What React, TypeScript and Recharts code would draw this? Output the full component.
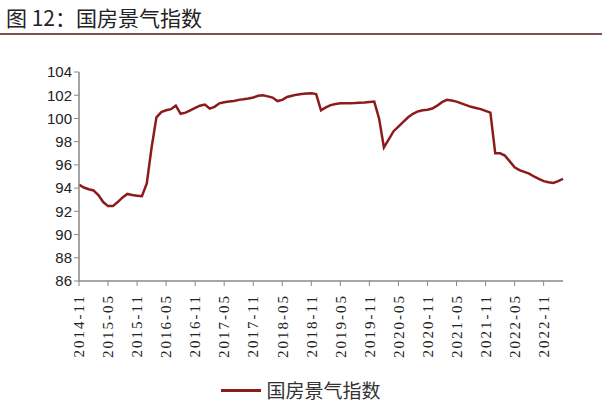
import React from "react";
import { LineChart, Line, XAxis, YAxis } from "recharts";

const months: string[] = [
  "2014-11","2014-12",
  "2015-01","2015-02","2015-03","2015-04","2015-05","2015-06","2015-07","2015-08","2015-09","2015-10","2015-11","2015-12",
  "2016-01","2016-02","2016-03","2016-04","2016-05","2016-06","2016-07","2016-08","2016-09","2016-10","2016-11","2016-12",
  "2017-01","2017-02","2017-03","2017-04","2017-05","2017-06","2017-07","2017-08","2017-09","2017-10","2017-11","2017-12",
  "2018-01","2018-02","2018-03","2018-04","2018-05","2018-06","2018-07","2018-08","2018-09","2018-10","2018-11","2018-12",
  "2019-01","2019-02","2019-03","2019-04","2019-05","2019-06","2019-07","2019-08","2019-09","2019-10","2019-11","2019-12",
  "2020-01","2020-02","2020-03","2020-04","2020-05","2020-06","2020-07","2020-08","2020-09","2020-10","2020-11","2020-12",
  "2021-01","2021-02","2021-03","2021-04","2021-05","2021-06","2021-07","2021-08","2021-09","2021-10","2021-11","2021-12",
  "2022-01","2022-02","2022-03","2022-04","2022-05","2022-06","2022-07","2022-08","2022-09","2022-10","2022-11","2022-12",
  "2023-01","2023-02","2023-03",
];

const indexValues: number[] = [
  94.3, 94.05,
  93.9, 93.8, 93.4, 92.8, 92.45, 92.45, 92.8, 93.2, 93.5, 93.4, 93.35, 93.3,
  94.4, 97.5, 100.1, 100.55, 100.7, 100.8, 101.1, 100.4, 100.5, 100.7, 100.9, 101.1,
  101.2, 100.85, 101.0, 101.3, 101.4, 101.45, 101.5, 101.6, 101.65, 101.72, 101.8, 101.95,
  102.0, 101.9, 101.8, 101.5, 101.6, 101.85, 101.95, 102.05, 102.1, 102.15, 102.17, 102.1,
  100.7, 100.95, 101.15, 101.25, 101.3, 101.3, 101.3, 101.32, 101.35, 101.38, 101.42, 101.45,
  100.0, 97.5, 98.2, 98.9, 99.3, 99.7, 100.1, 100.4, 100.6, 100.7, 100.75, 100.85,
  101.1, 101.4, 101.6, 101.55, 101.45, 101.3, 101.15, 101.0, 100.9, 100.8, 100.65, 100.5,
  97.0, 97.0, 96.8, 96.3, 95.8, 95.55, 95.4, 95.25, 95.0, 94.8, 94.6, 94.5,
  94.45, 94.6, 94.8,
];

const yTicks: number[] = [86, 88, 90, 92, 94, 96, 98, 100, 102, 104];

const seriesName = "国房景气指数";
const titleText = "图 12：国房景气指数";

const data = months.map((m, i) => ({ month: m, value: indexValues[i] }));

const XTick = (props: any) => {
  const { x, y, payload } = props;
  return (
    <g transform={`translate(${x},${y + 6}) rotate(-90)`}>
      <text
        x={0}
        y={0}
        dy="0.35em"
        textAnchor="end"
        fontFamily="'Liberation Serif', 'DejaVu Serif', serif"
        fontSize={15}
        letterSpacing={2}
        fill="#222"
      >
        {payload.value}
      </text>
    </g>
  );
};

export default function App() {
  return (
    <div
      style={{
        position: "absolute",
        left: 0,
        top: 0,
        width: 602,
        height: 407,
        background: "#fff",
        overflow: "hidden",
      }}
    >
      <div
        style={{
          position: "absolute",
          left: 6,
          top: 3,
          fontFamily: "'Noto Sans CJK SC', sans-serif",
          fontSize: 21,
          color: "#222",
          lineHeight: "28px",
          whiteSpace: "nowrap",
        }}
      >
        {titleText}
      </div>
      <div
        style={{
          position: "absolute",
          left: 0,
          top: 33,
          width: 602,
          height: 1.5,
          background: "#7a5252",
        }}
      />
      <div style={{ position: "absolute", left: 0, top: 0 }}>
        <LineChart
          width={602}
          height={407}
          data={data}
          margin={{ top: 72, right: 39, bottom: 46, left: 39 }}
        >
          <XAxis
            dataKey="month"
            interval={5}
            tick={<XTick />}
            tickSize={5}
            height={80}
            axisLine={{ stroke: "#888", strokeWidth: 1.5 }}
            tickLine={{ stroke: "#888" }}
          />
          <YAxis
            domain={[86, 104]}
            ticks={yTicks}
            interval={0}
            width={40}
            tickSize={5}
            tickMargin={2}
            axisLine={{ stroke: "#888", strokeWidth: 1.5 }}
            tickLine={{ stroke: "#888" }}
            tick={{
              fontFamily: "'Liberation Sans', Arial, sans-serif",
              fontSize: 15,
              fill: "#222",
            }}
            allowDataOverflow
          />
          <Line
            type="linear"
            dataKey="value"
            name={seriesName}
            stroke="#8c1c1c"
            strokeWidth={2.5}
            dot={false}
            isAnimationActive={false}
          />
        </LineChart>
      </div>
      <div
        style={{
          position: "absolute",
          left: 0,
          top: 378,
          width: 602,
          display: "flex",
          alignItems: "center",
          justifyContent: "center",
        }}
      >
        <div style={{ width: 40, height: 3, background: "#8c1c1c", marginRight: 5 }} />
        <span
          style={{
            fontFamily: "'Noto Sans CJK SC', sans-serif",
            fontSize: 19,
            color: "#333",
            lineHeight: "24px",
          }}
        >
          {seriesName}
        </span>
      </div>
    </div>
  );
}
